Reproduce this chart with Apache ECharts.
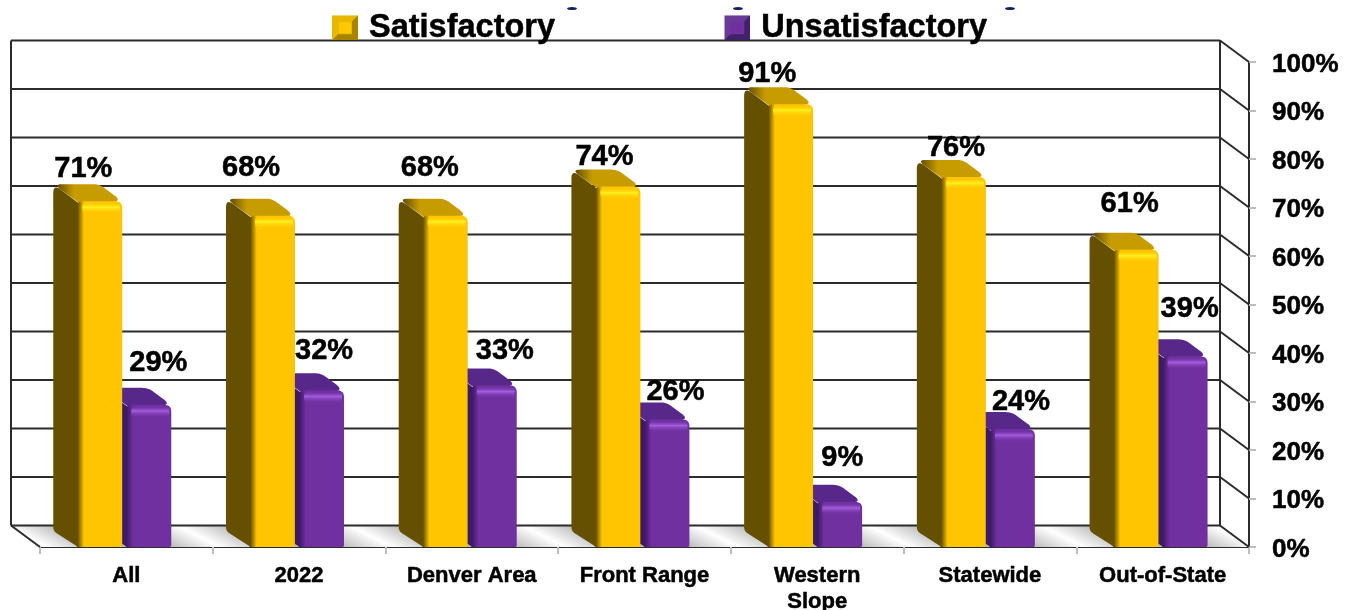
<!DOCTYPE html>
<html><head><meta charset="utf-8">
<style>html,body{margin:0;padding:0;background:#fff}#c{width:1350px;height:610px}</style>
<script src="https://cdn.jsdelivr.net/npm/echarts@6/dist/echarts.min.js"></script>
</head><body><div id="c"></div>
<script>
const categories = ['All', '2022', 'Denver Area', 'Front Range', 'Western\nSlope', 'Statewide', 'Out-of-State'];
const satisfactory = [71, 68, 68, 74, 91, 76, 61];
const unsatisfactory = [29, 32, 33, 26, 9, 24, 39];
const axisTicks = [0, 10, 20, 30, 40, 50, 60, 70, 80, 90, 100];

// Hand placement of the value labels: [horizontal shift from category centre, lift above bar]
const satLabelDx = [-43, -48, -42, -40, -50, -34, -33];
const satLabelLift = [18, 33, 33, 15, 16, 14, 31];
const unsatLabelDx = [32, 25, 33, 31, 25, 31, 27];
const unsatLabelLift = [27, 25, 20, 13, 29, 13, 33];

const FONT = '"Liberation Sans", Arial, sans-serif';
const WALL = { dx: 29, dy: 21.5 }, BAR = { dx: 23, dy: 17, raise: 1.5, labelDy: 16 };
const G = echarts.graphic;
const grad = (stops, x0 = 0, y0 = 0, x1 = 1, y1 = 0) =>
  new G.LinearGradient(x0, y0, x1, y1, stops.map(s => ({ offset: s[0], color: s[1] })));

function rounded(pts) { // pts: [x, y, radius]
  const out = [], n = pts.length;
  for (let i = 0; i < n; i++) {
    const p = pts[i], a = pts[(i + n - 1) % n], b = pts[(i + 1) % n], r = p[2] || 0;
    if (!r) { out.push([p[0], p[1]]); continue; }
    const la = Math.hypot(a[0] - p[0], a[1] - p[1]), lb = Math.hypot(b[0] - p[0], b[1] - p[1]);
    const ra = Math.min(r, la / 2) / la, rb = Math.min(r, lb / 2) / lb;
    const s = [p[0] + (a[0] - p[0]) * ra, p[1] + (a[1] - p[1]) * ra];
    const e = [p[0] + (b[0] - p[0]) * rb, p[1] + (b[1] - p[1]) * rb];
    for (let k = 0; k <= 10; k++) {
      const t = k / 10, u = 1 - t;
      out.push([u * u * s[0] + 2 * u * t * p[0] + t * t * e[0], u * u * s[1] + 2 * u * t * p[1] + t * t * e[1]]);
    }
  }
  return out;
}
const poly = (points, fill, z2) => ({ type: 'polygon', z2: z2 || 0, shape: { points }, style: { fill } });
const seg = (x1, y1, x2, y2) => ({ type: 'line', shape: { x1, y1, x2, y2 }, style: { stroke: '#2b2b2b', lineWidth: 2 } });

function renderWalls(params, api) {
  const cs = params.coordSys, L = cs.x, R = cs.x + cs.width;
  const band = cs.width / categories.length;
  const y0 = api.coord([0, 0])[1];
  const yTop = api.coord([0, 100])[1];
  const { dx, dy } = WALL;
  const yb = y0 - dy;
  const children = [];
  // grey floor with one slanted light stripe per category
  children.push(poly([[L, y0], [R, y0], [R - dx, yb], [L - dx, yb]], '#b8b8b8'));
  const hw = band * 0.3;
  for (let i = -1; i < categories.length; i++) {
    const cx = L + 160 + i * band, wy = y0 - 10;
    const vx = band * 0.3 * 0.2, vy = -2 * vx;
    const clampB = x => Math.min(R - dx, Math.max(L - dx, x));
    const clampF = x => Math.min(R, Math.max(L, x));
    const pts = [[clampB(cx - hw - 23), yb], [clampB(cx + hw - 23), yb], [clampF(cx + hw + 20), y0], [clampF(cx - hw + 20), y0]];
    const fill = new G.LinearGradient(cx - vx, wy - vy, cx + vx, wy + vy, [
      { offset: 0, color: 'rgba(255,255,255,0)' },
      { offset: 0.5, color: 'rgba(255,255,255,1)' },
      { offset: 1, color: 'rgba(255,255,255,0)' }], true);
    children.push(poly(pts, fill));
  }
  axisTicks.forEach(v => {
    const y = api.coord([0, v])[1];
    children.push(seg(L - dx, y - dy, R - dx, y - dy));
    children.push(seg(R - dx, y - dy, R, y));
  });
  children.push(seg(L - dx, yTop - dy, L - dx, y0 - dy));
  children.push(seg(R - dx, yTop - dy, R - dx, y0 - dy));
  children.push(seg(L - dx, y0 - dy, L, y0));
  return { type: 'group', children };
}

function barRenderer(look, offset, labelDx, labelLift) {
  return function (params, api) {
    const i = api.value(0), v = api.value(1);
    const p = api.coord([i, v]), base = api.coord([i, 0]);
    const band = api.size([1, 0])[0];
    const w = band * 0.266;
    const x = p[0] + band * offset, t = p[1] - BAR.raise, b = base[1];
    const { dx, dy } = BAR;
    const topFace = rounded([[x - dx, t - dy, 9], [x + w - dx, t - dy, 6], [x + w, t, 10], [x + 6, t + 4, 0]]);
    const side = rounded([[x - dx, t - dy, 9], [x + 5, t + 4, 0], [x + 5, b, 0], [x + 2, b, 3], [x - dx, b - 16, 4]]);
    const front = rounded([[x, t, 7], [x + w, t, 7], [x + w, b, 2], [x, b, 2]]);
    return {
      type: 'group',
      children: [
        poly(topFace, grad([[0, look.side], [0.28, look.top], [1, look.top]]), 1),
        poly(side, look.side, 2),
        poly(front, grad([[0, look.side], [0.03, look.side], [0.17, look.main], [0.98, look.main], [1, look.edge]]), 3),
        { type: 'rect', z2: 4,
          shape: { x: x + 6, y: t + 1, width: w - 8, height: 12, r: 4 },
          style: { fill: grad([[0, look.main + '00'], [0.42, look.glow], [1, look.main + '00']], 0, 0, 0, 1) } },
        { type: 'text', z2: 9,
          style: { text: v + '%', x: api.coord([i, 0])[0] + labelDx[i], y: p[1] - BAR.labelDy - labelLift[i],
            align: 'center', verticalAlign: 'middle', fill: '#000', stroke: '#000', lineWidth: 0.5,
            font: 'bold 29px ' + FONT } }
      ]
    };
  };
}

const icon = (light, main, dark) => 'image://data:image/svg+xml,' + encodeURIComponent(
  `<svg xmlns="http://www.w3.org/2000/svg" width="26" height="25"><rect width="26" height="25" fill="${light}"/>` +
  `<polygon points="0,25 26,25 26,0 20,6 20,19 6,19" fill="${dark}"/>` +
  `<rect x="7" y="7" width="12" height="11" fill="${main}"/></svg>`);

const heavy = { textBorderColor: '#000', textBorderWidth: 0.5 };
const chart = echarts.init(document.getElementById('c'), null, { renderer: 'canvas' });
chart.setOption({
  animation: false,
  backgroundColor: '#fff',
  grid: { left: 40, right: 101, top: 62, bottom: 63, outerBoundsMode: 'none' },
  legend: {
    left: 327, top: 6, itemGap: 169, itemWidth: 26, itemHeight: 25,
    data: [
      { name: 'Satisfactory', icon: icon('#e8b800', '#ffc800', '#a88400') },
      { name: 'Unsatisfactory', icon: icon('#6a3a98', '#7030a0', '#43206a') }
    ],
    selectedMode: false,
    textStyle: Object.assign({ fontFamily: FONT, fontWeight: 'bold', fontSize: 32.5, color: '#000', padding: [0, 0, 0, 6] }, heavy)
  },
  xAxis: {
    type: 'category', data: categories,
    axisLine: { show: true, lineStyle: { color: '#2b2b2b', width: 2 } },
    axisTick: { show: true, length: 7, lineStyle: { color: '#bdbdbd', width: 2 } },
    axisLabel: Object.assign({ interval: 0, margin: 16, color: '#000', fontFamily: FONT, fontWeight: 'bold', fontSize: 22, lineHeight: 26 }, heavy)
  },
  yAxis: {
    type: 'value', min: 0, max: 100, interval: 10, position: 'right',
    splitLine: { show: false },
    axisLine: { show: true, lineStyle: { color: '#2b2b2b', width: 2 } },
    axisTick: { show: true, length: 7, lineStyle: { color: '#bdbdbd', width: 2 } },
    axisLabel: {
      margin: 23, formatter: v => `{t|${v}%}`,
      rich: { t: Object.assign({ padding: [5, 0, 0, 0], color: '#000', fontFamily: FONT, fontWeight: 'bold', fontSize: 26 }, heavy) }
    }
  },
  series: [
    { type: 'custom', name: 'walls', silent: true, z: 1, data: [[0, 0]], encode: { x: 0, y: 1 }, renderItem: renderWalls },
    { type: 'custom', name: 'Unsatisfactory', z: 2, clip: false,
      itemStyle: { color: '#7030a0' },
      data: unsatisfactory.map((v, i) => [i, v]), encode: { x: 0, y: 1 },
      renderItem: barRenderer({ side: '#3d1a66', top: '#57288a', main: '#7030a0', edge: '#6a2c98', glow: '#a45ee0' }, -0.006, unsatLabelDx, unsatLabelLift) },
    { type: 'custom', name: 'Satisfactory', z: 3, clip: false,
      itemStyle: { color: '#ffc600' },
      data: satisfactory.map((v, i) => [i, v]), encode: { x: 0, y: 1 },
      renderItem: barRenderer({ side: '#654f00', top: '#c79c00', main: '#ffc600', edge: '#f0b800', glow: '#fff01e' }, -0.29, satLabelDx, satLabelLift) }
  ],
  graphic: [572, 738, 1010].map(x => ({
    type: 'ellipse', silent: true, shape: { cx: x, cy: 8.5, rx: 5, ry: 1.6 }, style: { fill: '#14235f' }
  }))
});
</script></body></html>
